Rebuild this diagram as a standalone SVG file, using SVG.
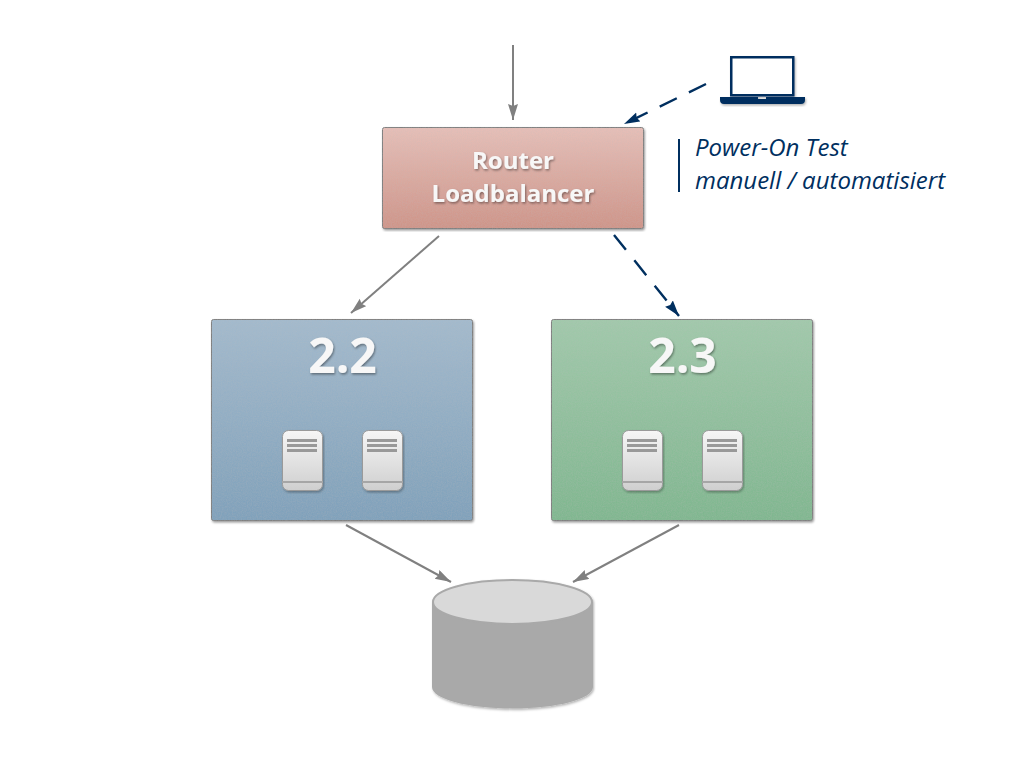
<svg xmlns="http://www.w3.org/2000/svg" width="1024" height="768" viewBox="0 0 1024 768">
<style>
.box{stroke:#7f7f7f;stroke-width:1;filter:url(#nz)}
.lbl{font-family:"Open Sans",sans-serif;font-weight:700;fill:#f7f7f7;text-anchor:middle;filter:url(#ts)}
.c{fill:none;stroke:#808080;stroke-width:2}
.d{fill:none;stroke:#002f5f;stroke-width:2.4;stroke-dasharray:19 13.500}
.note{font-family:"Open Sans",sans-serif;font-style:italic;font-size:24px;fill:#002f5f}
</style>
<defs>
<linearGradient id="gr" x1="0" y1="0" x2="0" y2="1"><stop offset="0" stop-color="#e6bfb8"/><stop offset="1" stop-color="#cf9488"/></linearGradient>
<linearGradient id="gb" x1="0" y1="0" x2="0" y2="1"><stop offset="0" stop-color="#a3bacd"/><stop offset="1" stop-color="#7fa1bb"/></linearGradient>
<linearGradient id="gg" x1="0" y1="0" x2="0" y2="1"><stop offset="0" stop-color="#a1c9ab"/><stop offset="1" stop-color="#7fb78f"/></linearGradient>
<linearGradient id="gs" x1="0" y1="0" x2="0" y2="1"><stop offset="0" stop-color="#f6f6f6"/><stop offset="1" stop-color="#cfcfcf"/></linearGradient>
<filter id="sh" x="-5%" y="-5%" width="110%" height="110%"><feDropShadow dx="1" dy="1.5" stdDeviation="1" flood-color="#000" flood-opacity=".3"/></filter>
<filter id="nz" x="-3%" y="-3%" width="106%" height="106%">
<feTurbulence type="fractalNoise" baseFrequency="0.8" numOctaves="2" seed="3" result="t"/>
<feColorMatrix in="t" type="matrix" values="0 0 0 0 0.5  0 0 0 0 0.5  0 0 0 0 0.5  0.35 0 0 0 -0.1" result="g"/>
<feComposite in="g" in2="SourceAlpha" operator="in" result="n"/>
<feDropShadow in="SourceGraphic" dx="1" dy="1.5" stdDeviation="1" flood-color="#000" flood-opacity=".4" result="s"/>
<feMerge><feMergeNode in="s"/><feMergeNode in="n"/></feMerge>
</filter>
<filter id="ts" x="-10%" y="-20%" width="120%" height="140%"><feDropShadow dx="1" dy="1.5" stdDeviation="1" flood-color="#000" flood-opacity=".4"/></filter>
<marker id="ag" markerUnits="userSpaceOnUse" markerWidth="18" markerHeight="12" refX="16" refY="5" orient="auto"><path d="M0 0L16 5L0 10L2 5Z" fill="#808080"/></marker>
<marker id="an" markerUnits="userSpaceOnUse" markerWidth="18" markerHeight="12" refX="16" refY="5" orient="auto"><path d="M0 0L16 5L0 10L2 5Z" fill="#002f5f"/></marker>
<g id="srv">
<rect x="0.500" y="0.500" width="40" height="60" rx="6" fill="url(#gs)" stroke="#9a9a9a" stroke-width="1" filter="url(#sh)"/>
<rect x="5" y="9" width="30" height="3" fill="#999"/><rect x="5" y="14" width="30" height="3" fill="#999"/><rect x="5" y="19" width="30" height="3" fill="#999"/>
<rect x="0" y="51" width="41" height="2" fill="#a6a6a6"/>
</g>
</defs>
<g id="connectors">
<path class="c" d="M513 45V120" marker-end="url(#ag)"/>
<path class="c" d="M439 236L351 313" marker-end="url(#ag)"/>
<path class="c" d="M346 525L451 582" marker-end="url(#ag)"/>
<path class="c" d="M679 525L573 582" marker-end="url(#ag)"/>
<path class="d" d="M706 84L624 124" marker-end="url(#an)"/>
<path class="d" d="M614 235L679 316" marker-end="url(#an)"/>
</g>
<g id="router"><rect class="box" x="382.500" y="127.500" width="261" height="101" rx="2" fill="url(#gr)"/>
<text class="lbl" x="513" y="168.500" font-size="24">Router</text><text class="lbl" x="513" y="201.500" font-size="24">Loadbalancer</text></g>
<g id="n22"><rect class="box" x="211.500" y="319.500" width="261" height="201" rx="2" fill="url(#gb)"/>
<text class="lbl" x="342.500" y="373" font-size="48">2.2</text>
<use href="#srv" x="282" y="430"/><use href="#srv" x="362" y="430"/></g>
<g id="n23"><rect class="box" x="551.500" y="319.500" width="261" height="201" rx="2" fill="url(#gg)"/>
<text class="lbl" x="682.500" y="373" font-size="48">2.3</text>
<use href="#srv" x="622" y="430"/><use href="#srv" x="702" y="430"/></g>
<g id="db" filter="url(#sh)">
<path d="M432 602V687C432 699 468 708.500 512.500 708.500S593 699 593 687V602Z" fill="#a9a9a9"/>
<ellipse cx="512.500" cy="602" rx="79.500" ry="22" fill="#d9d9d9" stroke="#a9a9a9" stroke-width="2"/>
</g>
<g id="laptop" filter="url(#sh)">
<rect x="731.250" y="57.250" width="62" height="38" fill="#fff" stroke="#002f5f" stroke-width="2.500"/>
<path d="M720 97H758V99H766V97H805V100Q805 104 801 104H724Q720 104 720 100Z" fill="#002f5f"/>
</g>
<g id="note"><rect x="678" y="139" width="2" height="53" fill="#002f5f"/>
<text class="note" x="695" y="156">Power-On Test</text><text class="note" x="695" y="189">manuell / automatisiert</text></g>
</svg>
